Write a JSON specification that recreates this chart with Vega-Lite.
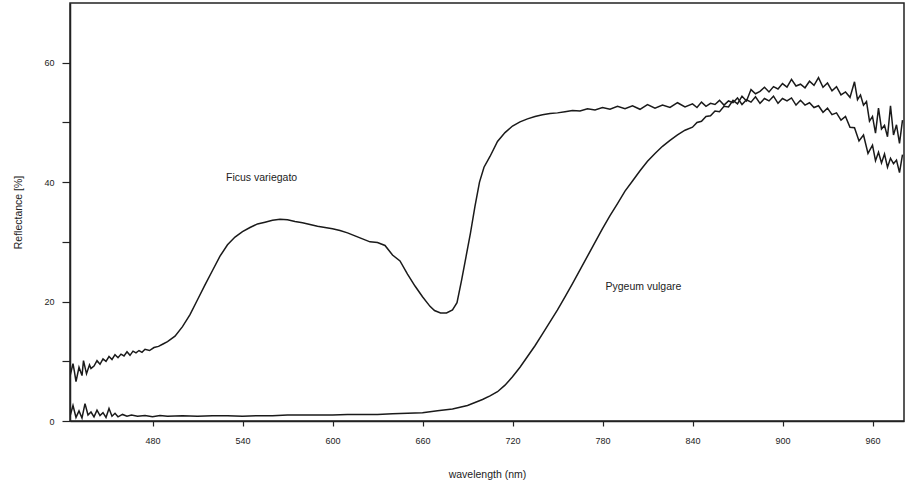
{
  "$schema": "https://vega.github.io/schema/vega-lite/v6.json",
  "autosize": "none",
  "width": 834,
  "height": 418,
  "padding": {"left": 70, "top": 3, "right": 8, "bottom": 69},
  "background": "white",
  "config": {
    "view": {"stroke": "#222", "strokeWidth": 1.5},
    "axis": {
      "grid": false,
      "domainColor": "#222",
      "domainWidth": 1.5,
      "tickColor": "#222",
      "tickWidth": 1.2,
      "labelFont": "Liberation Sans",
      "labelFontSize": 9,
      "labelColor": "#222",
      "titleFont": "Liberation Sans",
      "titleFontSize": 10.5,
      "titleFontWeight": "normal",
      "titleColor": "#222"
    }
  },
  "datasets": {
    "spectra": [
      {"series": "Ficus variegato", "wavelength": 425, "reflectance": 7.5},
      {"series": "Ficus variegato", "wavelength": 427, "reflectance": 9.6},
      {"series": "Ficus variegato", "wavelength": 428, "reflectance": 8.2},
      {"series": "Ficus variegato", "wavelength": 429, "reflectance": 6.6},
      {"series": "Ficus variegato", "wavelength": 431, "reflectance": 9.0},
      {"series": "Ficus variegato", "wavelength": 433, "reflectance": 7.6},
      {"series": "Ficus variegato", "wavelength": 434, "reflectance": 10.1},
      {"series": "Ficus variegato", "wavelength": 436, "reflectance": 7.9},
      {"series": "Ficus variegato", "wavelength": 438, "reflectance": 9.4},
      {"series": "Ficus variegato", "wavelength": 439, "reflectance": 8.8},
      {"series": "Ficus variegato", "wavelength": 441, "reflectance": 9.2},
      {"series": "Ficus variegato", "wavelength": 443, "reflectance": 10.1},
      {"series": "Ficus variegato", "wavelength": 445, "reflectance": 9.5},
      {"series": "Ficus variegato", "wavelength": 447, "reflectance": 10.4},
      {"series": "Ficus variegato", "wavelength": 449, "reflectance": 10.0},
      {"series": "Ficus variegato", "wavelength": 451, "reflectance": 10.8},
      {"series": "Ficus variegato", "wavelength": 453, "reflectance": 10.3},
      {"series": "Ficus variegato", "wavelength": 455, "reflectance": 11.1},
      {"series": "Ficus variegato", "wavelength": 457, "reflectance": 10.6},
      {"series": "Ficus variegato", "wavelength": 459, "reflectance": 11.2},
      {"series": "Ficus variegato", "wavelength": 461, "reflectance": 10.9},
      {"series": "Ficus variegato", "wavelength": 463, "reflectance": 11.6},
      {"series": "Ficus variegato", "wavelength": 465, "reflectance": 11.0},
      {"series": "Ficus variegato", "wavelength": 467, "reflectance": 11.7},
      {"series": "Ficus variegato", "wavelength": 469, "reflectance": 11.4},
      {"series": "Ficus variegato", "wavelength": 471, "reflectance": 11.8},
      {"series": "Ficus variegato", "wavelength": 473, "reflectance": 11.5},
      {"series": "Ficus variegato", "wavelength": 475, "reflectance": 12.0},
      {"series": "Ficus variegato", "wavelength": 478, "reflectance": 11.8},
      {"series": "Ficus variegato", "wavelength": 481, "reflectance": 12.3},
      {"series": "Ficus variegato", "wavelength": 484, "reflectance": 12.5},
      {"series": "Ficus variegato", "wavelength": 487, "reflectance": 12.9},
      {"series": "Ficus variegato", "wavelength": 490, "reflectance": 13.3},
      {"series": "Ficus variegato", "wavelength": 495, "reflectance": 14.2},
      {"series": "Ficus variegato", "wavelength": 500, "reflectance": 15.8},
      {"series": "Ficus variegato", "wavelength": 505, "reflectance": 17.8},
      {"series": "Ficus variegato", "wavelength": 510, "reflectance": 20.3},
      {"series": "Ficus variegato", "wavelength": 515, "reflectance": 22.8},
      {"series": "Ficus variegato", "wavelength": 520, "reflectance": 25.2},
      {"series": "Ficus variegato", "wavelength": 525, "reflectance": 27.6},
      {"series": "Ficus variegato", "wavelength": 530, "reflectance": 29.5},
      {"series": "Ficus variegato", "wavelength": 535, "reflectance": 30.8},
      {"series": "Ficus variegato", "wavelength": 540, "reflectance": 31.7},
      {"series": "Ficus variegato", "wavelength": 545, "reflectance": 32.4},
      {"series": "Ficus variegato", "wavelength": 550, "reflectance": 33.0},
      {"series": "Ficus variegato", "wavelength": 555, "reflectance": 33.3},
      {"series": "Ficus variegato", "wavelength": 560, "reflectance": 33.6},
      {"series": "Ficus variegato", "wavelength": 565, "reflectance": 33.8},
      {"series": "Ficus variegato", "wavelength": 570, "reflectance": 33.7},
      {"series": "Ficus variegato", "wavelength": 575, "reflectance": 33.4},
      {"series": "Ficus variegato", "wavelength": 580, "reflectance": 33.2},
      {"series": "Ficus variegato", "wavelength": 585, "reflectance": 32.9},
      {"series": "Ficus variegato", "wavelength": 590, "reflectance": 32.6},
      {"series": "Ficus variegato", "wavelength": 595, "reflectance": 32.4},
      {"series": "Ficus variegato", "wavelength": 600, "reflectance": 32.2},
      {"series": "Ficus variegato", "wavelength": 605, "reflectance": 31.9},
      {"series": "Ficus variegato", "wavelength": 610, "reflectance": 31.5},
      {"series": "Ficus variegato", "wavelength": 615, "reflectance": 31.0},
      {"series": "Ficus variegato", "wavelength": 620, "reflectance": 30.5},
      {"series": "Ficus variegato", "wavelength": 625, "reflectance": 30.0},
      {"series": "Ficus variegato", "wavelength": 630, "reflectance": 29.9},
      {"series": "Ficus variegato", "wavelength": 635, "reflectance": 29.4},
      {"series": "Ficus variegato", "wavelength": 640, "reflectance": 27.8},
      {"series": "Ficus variegato", "wavelength": 645, "reflectance": 26.8},
      {"series": "Ficus variegato", "wavelength": 650, "reflectance": 24.6},
      {"series": "Ficus variegato", "wavelength": 655, "reflectance": 22.6},
      {"series": "Ficus variegato", "wavelength": 660, "reflectance": 20.8},
      {"series": "Ficus variegato", "wavelength": 665, "reflectance": 19.2},
      {"series": "Ficus variegato", "wavelength": 668, "reflectance": 18.5},
      {"series": "Ficus variegato", "wavelength": 672, "reflectance": 18.1},
      {"series": "Ficus variegato", "wavelength": 676, "reflectance": 18.1},
      {"series": "Ficus variegato", "wavelength": 680, "reflectance": 18.6},
      {"series": "Ficus variegato", "wavelength": 683, "reflectance": 19.8},
      {"series": "Ficus variegato", "wavelength": 686, "reflectance": 23.5},
      {"series": "Ficus variegato", "wavelength": 689, "reflectance": 27.5},
      {"series": "Ficus variegato", "wavelength": 692, "reflectance": 31.5},
      {"series": "Ficus variegato", "wavelength": 695, "reflectance": 36.0},
      {"series": "Ficus variegato", "wavelength": 698, "reflectance": 40.0},
      {"series": "Ficus variegato", "wavelength": 701, "reflectance": 42.5},
      {"series": "Ficus variegato", "wavelength": 705, "reflectance": 44.3},
      {"series": "Ficus variegato", "wavelength": 710, "reflectance": 46.8},
      {"series": "Ficus variegato", "wavelength": 715, "reflectance": 48.3},
      {"series": "Ficus variegato", "wavelength": 720, "reflectance": 49.4},
      {"series": "Ficus variegato", "wavelength": 725, "reflectance": 50.1},
      {"series": "Ficus variegato", "wavelength": 730, "reflectance": 50.6},
      {"series": "Ficus variegato", "wavelength": 735, "reflectance": 51.0},
      {"series": "Ficus variegato", "wavelength": 740, "reflectance": 51.3},
      {"series": "Ficus variegato", "wavelength": 745, "reflectance": 51.5},
      {"series": "Ficus variegato", "wavelength": 750, "reflectance": 51.6},
      {"series": "Ficus variegato", "wavelength": 755, "reflectance": 51.8},
      {"series": "Ficus variegato", "wavelength": 760, "reflectance": 52.0},
      {"series": "Ficus variegato", "wavelength": 765, "reflectance": 51.9},
      {"series": "Ficus variegato", "wavelength": 770, "reflectance": 52.3},
      {"series": "Ficus variegato", "wavelength": 775, "reflectance": 52.1},
      {"series": "Ficus variegato", "wavelength": 780, "reflectance": 52.5},
      {"series": "Ficus variegato", "wavelength": 785, "reflectance": 52.2},
      {"series": "Ficus variegato", "wavelength": 790, "reflectance": 52.7},
      {"series": "Ficus variegato", "wavelength": 795, "reflectance": 52.3},
      {"series": "Ficus variegato", "wavelength": 800, "reflectance": 52.8},
      {"series": "Ficus variegato", "wavelength": 805, "reflectance": 52.2},
      {"series": "Ficus variegato", "wavelength": 810, "reflectance": 53.0},
      {"series": "Ficus variegato", "wavelength": 815, "reflectance": 52.4},
      {"series": "Ficus variegato", "wavelength": 820, "reflectance": 52.9},
      {"series": "Ficus variegato", "wavelength": 825, "reflectance": 52.5},
      {"series": "Ficus variegato", "wavelength": 830, "reflectance": 53.3},
      {"series": "Ficus variegato", "wavelength": 835, "reflectance": 52.6},
      {"series": "Ficus variegato", "wavelength": 840, "reflectance": 53.1},
      {"series": "Ficus variegato", "wavelength": 843, "reflectance": 52.5},
      {"series": "Ficus variegato", "wavelength": 846, "reflectance": 53.4},
      {"series": "Ficus variegato", "wavelength": 849, "reflectance": 52.7},
      {"series": "Ficus variegato", "wavelength": 852, "reflectance": 53.2},
      {"series": "Ficus variegato", "wavelength": 855, "reflectance": 53.0},
      {"series": "Ficus variegato", "wavelength": 858, "reflectance": 53.7},
      {"series": "Ficus variegato", "wavelength": 861, "reflectance": 52.9},
      {"series": "Ficus variegato", "wavelength": 864, "reflectance": 53.6},
      {"series": "Ficus variegato", "wavelength": 867, "reflectance": 53.3},
      {"series": "Ficus variegato", "wavelength": 870, "reflectance": 54.1},
      {"series": "Ficus variegato", "wavelength": 873, "reflectance": 53.0},
      {"series": "Ficus variegato", "wavelength": 876, "reflectance": 53.8},
      {"series": "Ficus variegato", "wavelength": 879, "reflectance": 53.4},
      {"series": "Ficus variegato", "wavelength": 882, "reflectance": 54.3},
      {"series": "Ficus variegato", "wavelength": 885, "reflectance": 53.2},
      {"series": "Ficus variegato", "wavelength": 888, "reflectance": 54.0},
      {"series": "Ficus variegato", "wavelength": 891, "reflectance": 53.6},
      {"series": "Ficus variegato", "wavelength": 894, "reflectance": 54.4},
      {"series": "Ficus variegato", "wavelength": 897, "reflectance": 53.2},
      {"series": "Ficus variegato", "wavelength": 900, "reflectance": 54.0},
      {"series": "Ficus variegato", "wavelength": 903, "reflectance": 53.6},
      {"series": "Ficus variegato", "wavelength": 906, "reflectance": 54.1},
      {"series": "Ficus variegato", "wavelength": 909, "reflectance": 52.9},
      {"series": "Ficus variegato", "wavelength": 912, "reflectance": 53.7},
      {"series": "Ficus variegato", "wavelength": 915, "reflectance": 52.9},
      {"series": "Ficus variegato", "wavelength": 918, "reflectance": 53.3},
      {"series": "Ficus variegato", "wavelength": 921, "reflectance": 52.5},
      {"series": "Ficus variegato", "wavelength": 924, "reflectance": 52.8},
      {"series": "Ficus variegato", "wavelength": 927, "reflectance": 51.7},
      {"series": "Ficus variegato", "wavelength": 930, "reflectance": 52.4},
      {"series": "Ficus variegato", "wavelength": 933, "reflectance": 51.3},
      {"series": "Ficus variegato", "wavelength": 936, "reflectance": 51.6},
      {"series": "Ficus variegato", "wavelength": 939, "reflectance": 50.4},
      {"series": "Ficus variegato", "wavelength": 942, "reflectance": 51.0},
      {"series": "Ficus variegato", "wavelength": 945, "reflectance": 49.2},
      {"series": "Ficus variegato", "wavelength": 948, "reflectance": 49.1},
      {"series": "Ficus variegato", "wavelength": 951, "reflectance": 46.9},
      {"series": "Ficus variegato", "wavelength": 954, "reflectance": 47.9},
      {"series": "Ficus variegato", "wavelength": 957, "reflectance": 44.8},
      {"series": "Ficus variegato", "wavelength": 960, "reflectance": 46.2},
      {"series": "Ficus variegato", "wavelength": 962, "reflectance": 43.6},
      {"series": "Ficus variegato", "wavelength": 964, "reflectance": 45.0},
      {"series": "Ficus variegato", "wavelength": 966, "reflectance": 43.2},
      {"series": "Ficus variegato", "wavelength": 968, "reflectance": 44.7},
      {"series": "Ficus variegato", "wavelength": 970, "reflectance": 42.5},
      {"series": "Ficus variegato", "wavelength": 972, "reflectance": 44.0},
      {"series": "Ficus variegato", "wavelength": 974, "reflectance": 43.1},
      {"series": "Ficus variegato", "wavelength": 976, "reflectance": 43.7},
      {"series": "Ficus variegato", "wavelength": 978, "reflectance": 41.6},
      {"series": "Ficus variegato", "wavelength": 980, "reflectance": 44.6},

      {"series": "Pygeum vulgare", "wavelength": 425, "reflectance": 0.8},
      {"series": "Pygeum vulgare", "wavelength": 427, "reflectance": 2.6},
      {"series": "Pygeum vulgare", "wavelength": 429, "reflectance": 0.6},
      {"series": "Pygeum vulgare", "wavelength": 431, "reflectance": 1.7},
      {"series": "Pygeum vulgare", "wavelength": 433, "reflectance": 0.5},
      {"series": "Pygeum vulgare", "wavelength": 435, "reflectance": 2.9},
      {"series": "Pygeum vulgare", "wavelength": 437, "reflectance": 1.0},
      {"series": "Pygeum vulgare", "wavelength": 439, "reflectance": 1.5},
      {"series": "Pygeum vulgare", "wavelength": 441, "reflectance": 0.7},
      {"series": "Pygeum vulgare", "wavelength": 443, "reflectance": 1.8},
      {"series": "Pygeum vulgare", "wavelength": 445, "reflectance": 0.9},
      {"series": "Pygeum vulgare", "wavelength": 447, "reflectance": 1.4},
      {"series": "Pygeum vulgare", "wavelength": 449, "reflectance": 0.6},
      {"series": "Pygeum vulgare", "wavelength": 451, "reflectance": 2.1},
      {"series": "Pygeum vulgare", "wavelength": 453, "reflectance": 0.8},
      {"series": "Pygeum vulgare", "wavelength": 455, "reflectance": 1.3},
      {"series": "Pygeum vulgare", "wavelength": 457, "reflectance": 0.7},
      {"series": "Pygeum vulgare", "wavelength": 460, "reflectance": 1.1},
      {"series": "Pygeum vulgare", "wavelength": 463, "reflectance": 0.8},
      {"series": "Pygeum vulgare", "wavelength": 466, "reflectance": 1.0},
      {"series": "Pygeum vulgare", "wavelength": 470, "reflectance": 0.8},
      {"series": "Pygeum vulgare", "wavelength": 475, "reflectance": 0.9},
      {"series": "Pygeum vulgare", "wavelength": 480, "reflectance": 0.7},
      {"series": "Pygeum vulgare", "wavelength": 485, "reflectance": 0.9},
      {"series": "Pygeum vulgare", "wavelength": 490, "reflectance": 0.8},
      {"series": "Pygeum vulgare", "wavelength": 500, "reflectance": 0.9},
      {"series": "Pygeum vulgare", "wavelength": 510, "reflectance": 0.8},
      {"series": "Pygeum vulgare", "wavelength": 520, "reflectance": 0.9},
      {"series": "Pygeum vulgare", "wavelength": 530, "reflectance": 0.9},
      {"series": "Pygeum vulgare", "wavelength": 540, "reflectance": 0.8},
      {"series": "Pygeum vulgare", "wavelength": 550, "reflectance": 0.9},
      {"series": "Pygeum vulgare", "wavelength": 560, "reflectance": 0.9},
      {"series": "Pygeum vulgare", "wavelength": 570, "reflectance": 1.0},
      {"series": "Pygeum vulgare", "wavelength": 580, "reflectance": 1.0},
      {"series": "Pygeum vulgare", "wavelength": 590, "reflectance": 1.0},
      {"series": "Pygeum vulgare", "wavelength": 600, "reflectance": 1.0},
      {"series": "Pygeum vulgare", "wavelength": 610, "reflectance": 1.1},
      {"series": "Pygeum vulgare", "wavelength": 620, "reflectance": 1.1},
      {"series": "Pygeum vulgare", "wavelength": 630, "reflectance": 1.1},
      {"series": "Pygeum vulgare", "wavelength": 640, "reflectance": 1.2},
      {"series": "Pygeum vulgare", "wavelength": 650, "reflectance": 1.3},
      {"series": "Pygeum vulgare", "wavelength": 660, "reflectance": 1.4},
      {"series": "Pygeum vulgare", "wavelength": 670, "reflectance": 1.7},
      {"series": "Pygeum vulgare", "wavelength": 680, "reflectance": 2.0},
      {"series": "Pygeum vulgare", "wavelength": 690, "reflectance": 2.6},
      {"series": "Pygeum vulgare", "wavelength": 695, "reflectance": 3.1},
      {"series": "Pygeum vulgare", "wavelength": 700, "reflectance": 3.6},
      {"series": "Pygeum vulgare", "wavelength": 705, "reflectance": 4.2},
      {"series": "Pygeum vulgare", "wavelength": 710, "reflectance": 4.9},
      {"series": "Pygeum vulgare", "wavelength": 715, "reflectance": 6.0},
      {"series": "Pygeum vulgare", "wavelength": 720, "reflectance": 7.4},
      {"series": "Pygeum vulgare", "wavelength": 725, "reflectance": 9.0},
      {"series": "Pygeum vulgare", "wavelength": 730, "reflectance": 10.8},
      {"series": "Pygeum vulgare", "wavelength": 735, "reflectance": 12.6},
      {"series": "Pygeum vulgare", "wavelength": 740, "reflectance": 14.6},
      {"series": "Pygeum vulgare", "wavelength": 745, "reflectance": 16.6},
      {"series": "Pygeum vulgare", "wavelength": 750, "reflectance": 18.6},
      {"series": "Pygeum vulgare", "wavelength": 755, "reflectance": 20.8},
      {"series": "Pygeum vulgare", "wavelength": 760, "reflectance": 23.0},
      {"series": "Pygeum vulgare", "wavelength": 765, "reflectance": 25.3},
      {"series": "Pygeum vulgare", "wavelength": 770, "reflectance": 27.6},
      {"series": "Pygeum vulgare", "wavelength": 775, "reflectance": 29.9},
      {"series": "Pygeum vulgare", "wavelength": 780, "reflectance": 32.2},
      {"series": "Pygeum vulgare", "wavelength": 785, "reflectance": 34.4},
      {"series": "Pygeum vulgare", "wavelength": 790, "reflectance": 36.4},
      {"series": "Pygeum vulgare", "wavelength": 795, "reflectance": 38.5},
      {"series": "Pygeum vulgare", "wavelength": 800, "reflectance": 40.2},
      {"series": "Pygeum vulgare", "wavelength": 805, "reflectance": 41.9},
      {"series": "Pygeum vulgare", "wavelength": 810, "reflectance": 43.5},
      {"series": "Pygeum vulgare", "wavelength": 815, "reflectance": 44.8},
      {"series": "Pygeum vulgare", "wavelength": 820, "reflectance": 46.0},
      {"series": "Pygeum vulgare", "wavelength": 825, "reflectance": 47.0},
      {"series": "Pygeum vulgare", "wavelength": 830, "reflectance": 47.9},
      {"series": "Pygeum vulgare", "wavelength": 835, "reflectance": 48.7},
      {"series": "Pygeum vulgare", "wavelength": 840, "reflectance": 49.2},
      {"series": "Pygeum vulgare", "wavelength": 843, "reflectance": 50.0},
      {"series": "Pygeum vulgare", "wavelength": 846, "reflectance": 50.2},
      {"series": "Pygeum vulgare", "wavelength": 849, "reflectance": 51.0},
      {"series": "Pygeum vulgare", "wavelength": 852, "reflectance": 51.1},
      {"series": "Pygeum vulgare", "wavelength": 855, "reflectance": 51.9},
      {"series": "Pygeum vulgare", "wavelength": 858, "reflectance": 51.8},
      {"series": "Pygeum vulgare", "wavelength": 861, "reflectance": 52.7},
      {"series": "Pygeum vulgare", "wavelength": 864, "reflectance": 52.6},
      {"series": "Pygeum vulgare", "wavelength": 867, "reflectance": 53.7},
      {"series": "Pygeum vulgare", "wavelength": 870, "reflectance": 53.1},
      {"series": "Pygeum vulgare", "wavelength": 873, "reflectance": 54.4},
      {"series": "Pygeum vulgare", "wavelength": 876, "reflectance": 53.6},
      {"series": "Pygeum vulgare", "wavelength": 879, "reflectance": 55.5},
      {"series": "Pygeum vulgare", "wavelength": 882, "reflectance": 54.8},
      {"series": "Pygeum vulgare", "wavelength": 885, "reflectance": 55.2},
      {"series": "Pygeum vulgare", "wavelength": 888, "reflectance": 55.9},
      {"series": "Pygeum vulgare", "wavelength": 891, "reflectance": 55.1},
      {"series": "Pygeum vulgare", "wavelength": 894, "reflectance": 56.0},
      {"series": "Pygeum vulgare", "wavelength": 897, "reflectance": 55.6},
      {"series": "Pygeum vulgare", "wavelength": 900, "reflectance": 56.5},
      {"series": "Pygeum vulgare", "wavelength": 903, "reflectance": 55.9},
      {"series": "Pygeum vulgare", "wavelength": 906, "reflectance": 57.2},
      {"series": "Pygeum vulgare", "wavelength": 909, "reflectance": 56.1},
      {"series": "Pygeum vulgare", "wavelength": 912, "reflectance": 56.4},
      {"series": "Pygeum vulgare", "wavelength": 915, "reflectance": 55.8},
      {"series": "Pygeum vulgare", "wavelength": 918, "reflectance": 56.9},
      {"series": "Pygeum vulgare", "wavelength": 921, "reflectance": 56.2},
      {"series": "Pygeum vulgare", "wavelength": 924, "reflectance": 57.5},
      {"series": "Pygeum vulgare", "wavelength": 927, "reflectance": 55.9},
      {"series": "Pygeum vulgare", "wavelength": 930, "reflectance": 56.6},
      {"series": "Pygeum vulgare", "wavelength": 933, "reflectance": 55.3},
      {"series": "Pygeum vulgare", "wavelength": 936, "reflectance": 56.0},
      {"series": "Pygeum vulgare", "wavelength": 939, "reflectance": 54.6},
      {"series": "Pygeum vulgare", "wavelength": 942, "reflectance": 55.1},
      {"series": "Pygeum vulgare", "wavelength": 945, "reflectance": 54.2},
      {"series": "Pygeum vulgare", "wavelength": 948, "reflectance": 56.8},
      {"series": "Pygeum vulgare", "wavelength": 950, "reflectance": 53.8},
      {"series": "Pygeum vulgare", "wavelength": 952, "reflectance": 54.6},
      {"series": "Pygeum vulgare", "wavelength": 954, "reflectance": 52.9},
      {"series": "Pygeum vulgare", "wavelength": 956, "reflectance": 53.5},
      {"series": "Pygeum vulgare", "wavelength": 958, "reflectance": 50.2},
      {"series": "Pygeum vulgare", "wavelength": 960, "reflectance": 51.0},
      {"series": "Pygeum vulgare", "wavelength": 962, "reflectance": 48.2},
      {"series": "Pygeum vulgare", "wavelength": 964, "reflectance": 52.4},
      {"series": "Pygeum vulgare", "wavelength": 966, "reflectance": 48.9},
      {"series": "Pygeum vulgare", "wavelength": 968, "reflectance": 49.5},
      {"series": "Pygeum vulgare", "wavelength": 970, "reflectance": 47.6},
      {"series": "Pygeum vulgare", "wavelength": 972, "reflectance": 52.8},
      {"series": "Pygeum vulgare", "wavelength": 974, "reflectance": 47.9},
      {"series": "Pygeum vulgare", "wavelength": 976, "reflectance": 49.6},
      {"series": "Pygeum vulgare", "wavelength": 978, "reflectance": 46.5},
      {"series": "Pygeum vulgare", "wavelength": 980, "reflectance": 50.4}
    ],
    "labels": [
      {"text": "Ficus variegato", "wavelength": 529, "reflectance": 40.7},
      {"text": "Pygeum vulgare", "wavelength": 782, "reflectance": 22.4}
    ]
  },
  "layer": [
    {
      "data": {"name": "spectra"},
      "mark": {"type": "line", "color": "#1a1a1a", "strokeWidth": 1.5, "clip": true},
      "encoding": {
        "x": {
          "field": "wavelength",
          "type": "quantitative",
          "scale": {"domain": [425, 981], "nice": false, "zero": false},
          "axis": {
            "title": "wavelength (nm)",
            "values": [480, 540, 600, 660, 720, 780, 840, 900, 960],
            "tickSize": 5,
            "labelPadding": 10,
            "titleY": 53,
            "titleBaseline": "middle"
          }
        },
        "y": {
          "field": "reflectance",
          "type": "quantitative",
          "scale": {"domain": [0, 70], "nice": false},
          "axis": {
            "title": "Reflectance [%]",
            "values": [0, 10, 20, 30, 40, 50, 60],
            "labelExpr": "datum.value % 20 === 0 ? datum.label : ''",
            "tickSize": 8,
            "labelPadding": 8,
            "titleX": -52,
            "titleBaseline": "middle"
          }
        },
        "detail": {"field": "series", "type": "nominal"}
      }
    },
    {
      "data": {"name": "labels"},
      "mark": {"type": "text", "align": "left", "baseline": "middle", "font": "Liberation Sans", "fontSize": 10.5, "color": "#222"},
      "encoding": {
        "x": {"field": "wavelength", "type": "quantitative"},
        "y": {"field": "reflectance", "type": "quantitative"},
        "text": {"field": "text", "type": "nominal"}
      }
    }
  ]
}
